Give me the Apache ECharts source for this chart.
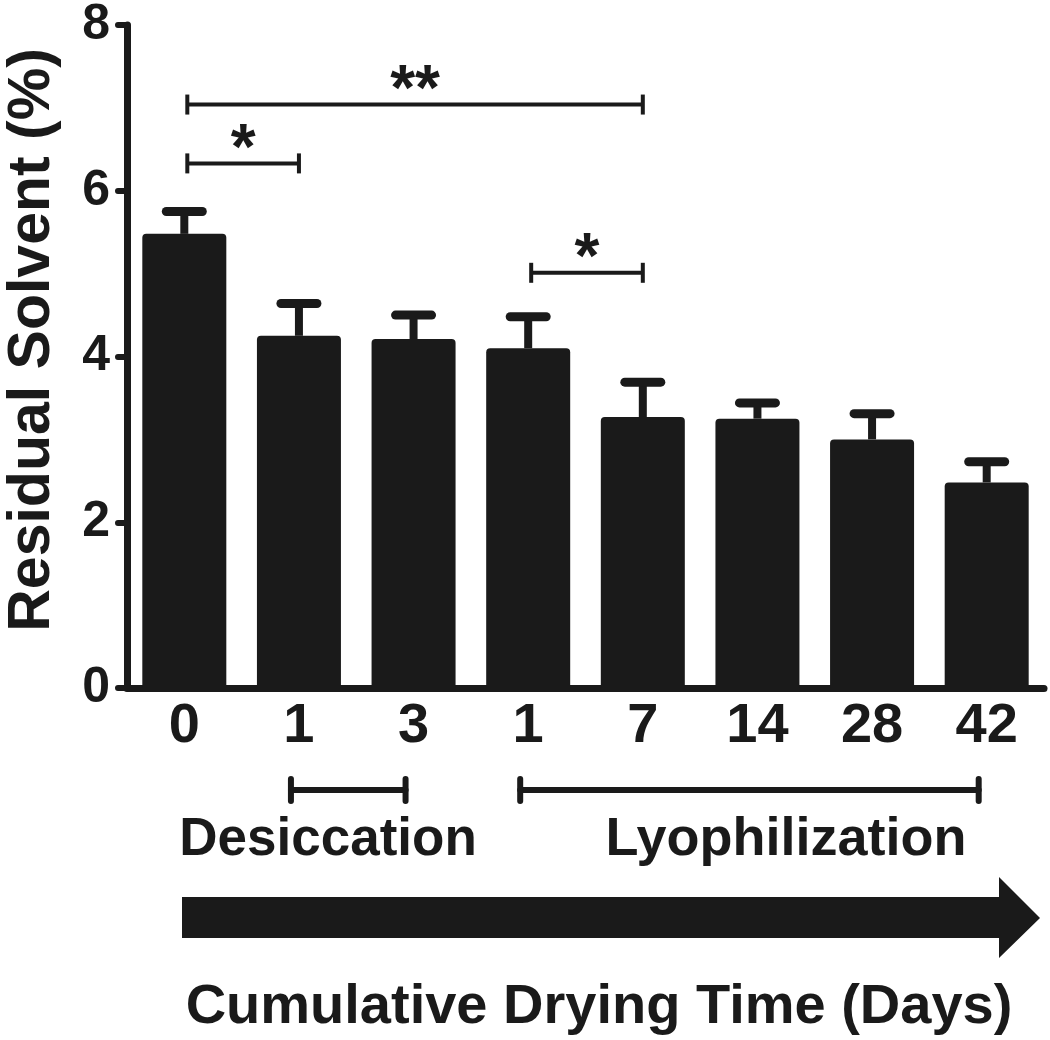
<!DOCTYPE html>
<html>
<head>
<meta charset="utf-8">
<script src="https://cdn.jsdelivr.net/npm/echarts@6/dist/echarts.min.js"></script>
<style>
html,body{margin:0;padding:0;background:#fff;}
#main{width:1050px;height:1040px;}
</style>
</head>
<body>
<div id="main"></div>
<script>
// ---- data ----
const categories = ['0', '1', '3', '1', '7', '14', '28', '42'];
const means = [5.48, 4.25, 4.21, 4.10, 3.27, 3.25, 3.00, 2.48];
const upperErr = [5.75, 4.64, 4.50, 4.48, 3.69, 3.44, 3.31, 2.73];
const yTicks = [0, 2, 4, 6, 8];
const sigFrom = [0, 0, 3];
const sigTo = [4, 1, 4];
const sigLevel = [7.04, 6.33, 5.01];
const sigText = ['**', '*', '*'];
const groupFrom = [1, 3];
const groupTo = [2, 7];
const groupNames = ['Desiccation', 'Lyophilization'];
const yTitle = 'Residual Solvent (%)';
const xTitle = 'Cumulative Drying Time (Days)';

const INK = '#1a1a1a';
const FONT = "'Liberation Sans', Arial, Helvetica, sans-serif";

const chart = echarts.init(document.getElementById('main'), null, {renderer: 'canvas'});

const errData = categories.map((c, i) => [i, means[i], upperErr[i]]);
const sigData = sigFrom.map((f, i) => [f, sigTo[i], sigLevel[i]]);
const grpData = groupFrom.map((f, i) => [f, groupTo[i], 0]);

const option = {
  backgroundColor: '#fff',
  animation: false,
  grid: {left: 127, top: 22, width: 917, height: 666, containLabel: false},
  xAxis: {
    type: 'category',
    data: categories,
    boundaryGap: true,
    axisLine: {lineStyle: {color: INK, width: 7, cap: 'round'}},
    axisTick: {alignWithLabel: true, length: 9, lineStyle: {color: INK, width: 6, cap: 'round'}},
    axisLabel: {
      color: INK, fontFamily: FONT, fontWeight: 'bold', fontSize: 56,
      margin: 39, verticalAlign: 'middle', interval: 0
    },
    splitLine: {show: false}
  },
  yAxis: {
    type: 'value',
    min: yTicks[0], max: yTicks[yTicks.length - 1], interval: 2,
    axisLine: {show: true, lineStyle: {color: INK, width: 7, cap: 'round'}},
    axisTick: {show: true, length: 9, lineStyle: {color: INK, width: 6, cap: 'round'}},
    axisLabel: {color: INK, fontFamily: FONT, fontWeight: 'bold', fontSize: 50, margin: 17},
    splitLine: {show: false}
  },
  series: [
    {
      type: 'custom',
      z: 1,
      data: errData,
      encode: {x: 0, y: [1, 2]},
      renderItem: function (params, api) {
        const base = api.coord([api.value(0), api.value(1)]);
        const top = api.coord([api.value(0), api.value(2)]);
        return {
          type: 'group',
          children: [
            {type: 'line', shape: {x1: base[0], y1: base[1], x2: top[0], y2: top[1]},
             style: {stroke: INK, lineWidth: 8, lineCap: 'butt'}},
            {type: 'line', shape: {x1: top[0] - 18, y1: top[1], x2: top[0] + 18, y2: top[1]},
             style: {stroke: INK, lineWidth: 9, lineCap: 'round'}}
          ]
        };
      }
    },
    {
      type: 'bar',
      z: 2,
      data: means,
      barWidth: 84,
      itemStyle: {color: INK, borderRadius: [4, 4, 0, 0]}
    },
    {
      type: 'custom',
      z: 3,
      data: sigData,
      encode: {x: [0, 1], y: 2},
      renderItem: function (params, api) {
        const a = api.coord([api.value(0), api.value(2)]);
        const b = api.coord([api.value(1), api.value(2)]);
        const x1 = a[0] + 3, x2 = b[0], y = a[1];
        const st = {stroke: INK, lineWidth: 4};
        return {
          type: 'group',
          children: [
            {type: 'line', shape: {x1: x1, y1: y, x2: x2, y2: y}, style: st},
            {type: 'line', shape: {x1: x1, y1: y - 10, x2: x1, y2: y + 10}, style: st},
            {type: 'line', shape: {x1: x2, y1: y - 10, x2: x2, y2: y + 10}, style: st},
            {type: 'text', style: {
              text: sigText[params.dataIndex], x: (x1 + x2) / 2, y: y - 12,
              align: 'center', verticalAlign: 'middle',
              font: 'bold 64px ' + FONT, fill: INK
            }}
          ]
        };
      }
    },
    {
      type: 'custom',
      z: 3,
      clip: false,
      data: grpData,
      encode: {x: [0, 1], y: 2},
      renderItem: function (params, api) {
        const a = api.coord([api.value(0), 0]);
        const b = api.coord([api.value(1), 0]);
        const y = a[1] + 102;
        const x1 = a[0] - 8, x2 = b[0] - 8;
        const st = {stroke: INK, lineWidth: 6, lineCap: 'round'};
        return {
          type: 'group',
          children: [
            {type: 'line', shape: {x1: x1, y1: y, x2: x2, y2: y}, style: st},
            {type: 'line', shape: {x1: x1, y1: y - 11, x2: x1, y2: y + 11}, style: st},
            {type: 'line', shape: {x1: x2, y1: y - 11, x2: x2, y2: y + 11}, style: st}
          ]
        };
      }
    }
  ],
  graphic: [
    {type: 'text', z: 10,
     x: 33, y: 340, rotation: Math.PI / 2,
     style: {text: yTitle, font: 'bold 59px ' + FONT, fill: INK, align: 'center', verticalAlign: 'middle'}},
    {type: 'text', z: 10, x: 328, y: 840,
     style: {text: groupNames[0], font: 'bold 53px ' + FONT, fill: INK, align: 'center', verticalAlign: 'middle'}},
    {type: 'text', z: 10, x: 786, y: 840,
     style: {text: groupNames[1], font: 'bold 54px ' + FONT, fill: INK, align: 'center', verticalAlign: 'middle'}},
    {type: 'polygon', z: 10,
     shape: {points: [[182, 897], [999, 897], [999, 877], [1040, 918], [999, 958], [999, 938], [182, 938]]},
     style: {fill: INK}},
    {type: 'text', z: 10, x: 599, y: 1008,
     style: {text: xTitle, font: 'bold 56px ' + FONT, fill: INK, align: 'center', verticalAlign: 'middle'}}
  ]
};
chart.setOption(option);
</script>
</body>
</html>
